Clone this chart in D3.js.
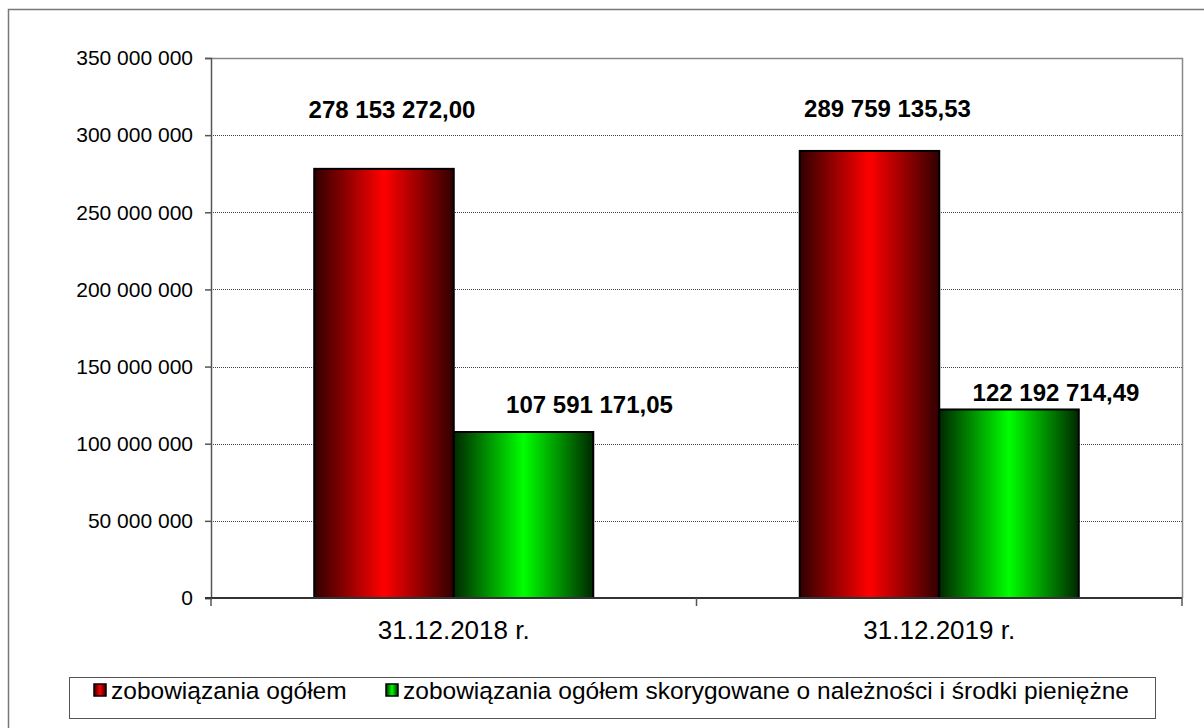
<!DOCTYPE html>
<html><head><meta charset="utf-8">
<script src="https://cdn.jsdelivr.net/npm/d3@7"></script>
<style>body{margin:0;background:#fff;}svg{display:block;font-family:"Liberation Sans",Arial,sans-serif;}</style>
</head><body><svg id="c" width="1204" height="728"></svg>
<script>
const categories = ["31.12.2018 r.", "31.12.2019 r."];
const seriesNames = ["zobowiązania ogółem", "zobowiązania ogółem skorygowane o należności i środki pieniężne"];
const totalValues = [278153272.00, 289759135.53];
const adjustedValues = [107591171.05, 122192714.49];
const yTicks = [0, 50000000, 100000000, 150000000, 200000000, 250000000, 300000000, 350000000];

const svg = d3.select("#c");
const loc = d3.formatLocale({decimal: ",", thousands: " ", grouping: [3], currency: ["", ""]});
const fmtTick = loc.format(",.0f");
const fmtVal = loc.format(",.2f");

const L = 211, R = 1182, T = 58, B = 598;
const y = d3.scaleLinear().domain([0, 350000000]).range([B, T]);
const x0 = d3.scaleBand().domain(categories).range([L, R]).paddingInner(0).paddingOuter(0);
const x1 = d3.scaleBand().domain(seriesNames).range([0, x0.bandwidth()]).paddingInner(0).paddingOuter(0.74);

const defs = svg.append("defs");
function grad(id, dark, bright) {
  const g = defs.append("linearGradient").attr("id", id).attr("x1", "0").attr("x2", "1").attr("y1", "0").attr("y2", "0");
  g.append("stop").attr("offset", "0").attr("stop-color", dark);
  g.append("stop").attr("offset", "0.5").attr("stop-color", bright);
  g.append("stop").attr("offset", "1").attr("stop-color", dark);
}
grad("gRed", "#300000", "#ff0000");
grad("gGreen", "#002800", "#00ff00");
const fills = ["url(#gRed)", "url(#gGreen)"];

// outer border
svg.append("rect").attr("x", 8.5).attr("y", 9.5).attr("width", 1210).attr("height", 740)
  .attr("fill", "none").attr("stroke", "#777").attr("stroke-width", 1.5);

// gridlines
svg.append("g").selectAll("line").data(yTicks.filter(d => d > 0 && d < 350000000)).join("line")
  .attr("x1", L).attr("x2", R).attr("y1", d => Math.round(y(d)) + 0.5).attr("y2", d => Math.round(y(d)) + 0.5)
  .attr("stroke", "#444").attr("stroke-width", 1).attr("stroke-dasharray", "1,1");

// plot border top/right
svg.append("path").attr("d", `M${L},${T + 0.5}H${R + 0.5}V${B}`).attr("fill", "none").attr("stroke", "#888").attr("stroke-width", 1.5);

// y axis
const yAxis = svg.append("g").attr("transform", `translate(${L},0)`)
  .call(d3.axisLeft(y).tickValues(yTicks).tickFormat(fmtTick).tickSize(6).tickPadding(12));
yAxis.select(".domain").attr("stroke", "#555").attr("stroke-width", 1.5);
yAxis.selectAll(".tick line").attr("stroke", "#555").attr("stroke-width", 1.5);
yAxis.selectAll("text").attr("font-size", 21).attr("fill", "#000").attr("font-family", "Liberation Sans, Arial, sans-serif");

// bars
const data = categories.map((c, i) => ({c, vals: [totalValues[i], adjustedValues[i]]}));
const labelNudge = [[[8, -51], [66, -19]], [[18, -34], [47, -8]]];
const groups = svg.append("g").selectAll("g").data(data).join("g").attr("transform", d => `translate(${x0(d.c)},0)`);
groups.selectAll("rect").data(d => d.vals.map((v, j) => ({v, s: seriesNames[j], j}))).join("rect")
  .attr("x", d => x1(d.s)).attr("width", x1.bandwidth())
  .attr("y", d => y(d.v)).attr("height", d => y(0) - y(d.v))
  .attr("fill", d => fills[d.j]).attr("stroke", "#000").attr("stroke-width", 2);

groups.each(function(d, i) {
  d3.select(this).selectAll("text.lbl").data(d.vals.map((v, j) => ({v, s: seriesNames[j], j}))).join("text")
    .attr("class", "lbl")
    .attr("x", e => x1(e.s) + x1.bandwidth() / 2 + labelNudge[i][e.j][0])
    .attr("y", e => y(e.v) + labelNudge[i][e.j][1])
    .attr("text-anchor", "middle").attr("font-size", 24).attr("font-weight", "bold")
    .text(e => fmtVal(e.v));
});

// x axis
const xAxis = svg.append("g").attr("transform", `translate(0,${B})`)
  .call(d3.axisBottom(x0).tickSize(0).tickPadding(0));
xAxis.select(".domain").remove();
svg.append("line").attr("x1", L - 6).attr("x2", R).attr("y1", B).attr("y2", B).attr("stroke", "#333").attr("stroke-width", 2);
const bounds = [L, x0(categories[1]), R];
svg.append("g").selectAll("line").data(bounds).join("line")
  .attr("x1", d => d).attr("x2", d => d).attr("y1", B).attr("y2", B + 8).attr("stroke", "#555").attr("stroke-width", 1.5);
xAxis.selectAll("text").attr("font-size", 26).attr("fill", "#000").attr("dy", 0).attr("y", 41)
  .attr("font-family", "Liberation Sans, Arial, sans-serif");

// legend
const lg = svg.append("g");
lg.append("rect").attr("x", 69.5).attr("y", 677.5).attr("width", 1086).attr("height", 41)
  .attr("fill", "#fff").attr("stroke", "#555").attr("stroke-width", 1);
const legendX = [94, 386];
seriesNames.forEach((s, j) => {
  lg.append("rect").attr("x", legendX[j]).attr("y", 684).attr("width", 12).attr("height", 12)
    .attr("fill", fills[j]).attr("stroke", "#000").attr("stroke-width", 1.5);
  lg.append("text").attr("x", legendX[j] + 17).attr("y", 699).attr("font-size", 24.5).attr("fill", "#000").text(s);
});
</script></body></html>
